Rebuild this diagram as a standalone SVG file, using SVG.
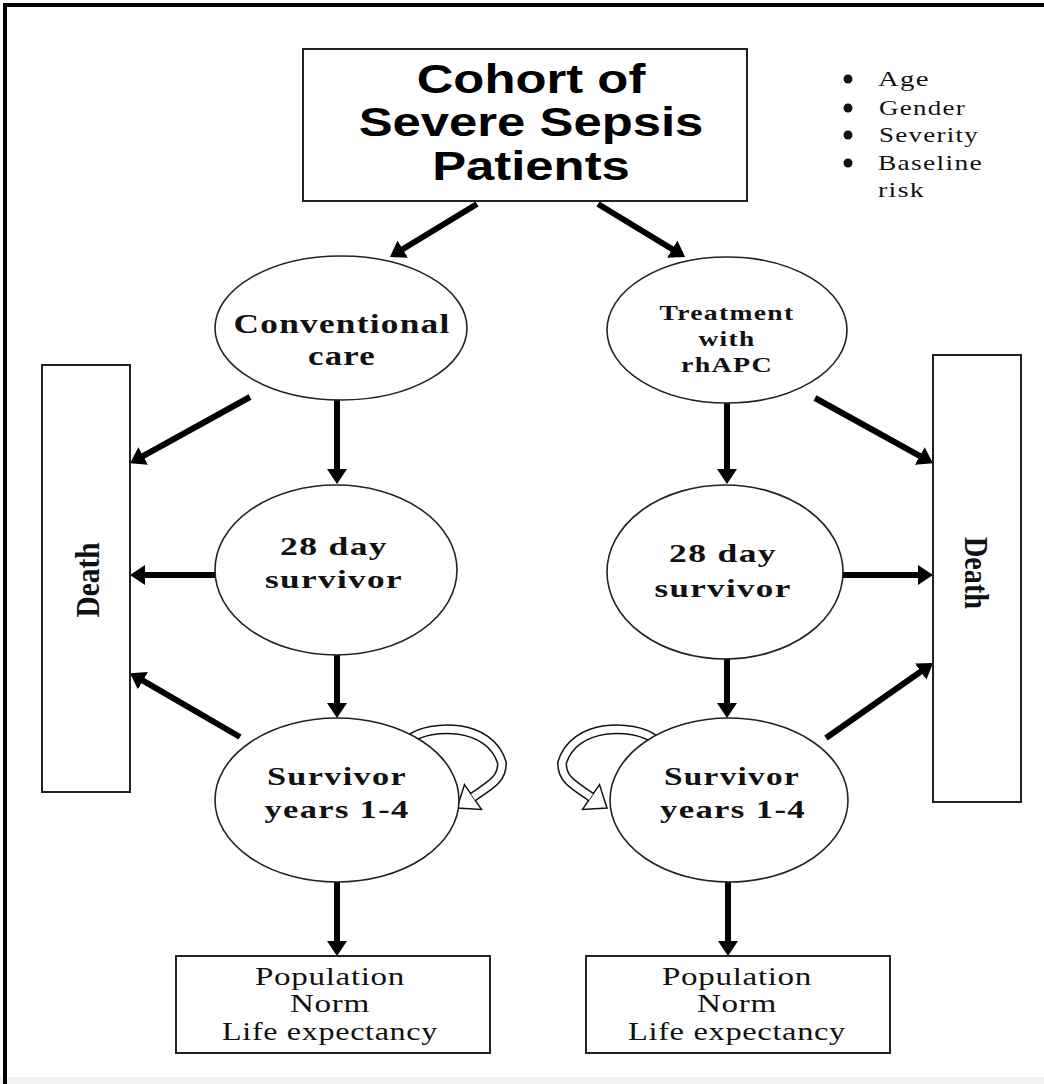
<svg xmlns="http://www.w3.org/2000/svg" width="1044" height="1084" viewBox="0 0 1044 1084">
<style>
.box{fill:#fff;stroke:#222;stroke-width:2}
.ell{fill:#fff;stroke:#222;stroke-width:1.6}
.ln{stroke:#000;stroke-width:6;fill:none;marker-end:url(#ah)}
.t1{font-family:"Liberation Sans",Arial,sans-serif;font-weight:bold;font-size:41px;fill:#000;text-anchor:middle}
.tb{font-family:"Liberation Serif","Times New Roman",serif;font-weight:bold;fill:#111;text-anchor:middle;letter-spacing:1px}
.tr{font-family:"Liberation Serif","Times New Roman",serif;fill:#111;letter-spacing:1px}
.tp{font-family:"Liberation Serif","Times New Roman",serif;fill:#111;text-anchor:middle;font-size:25px;letter-spacing:0.5px}
.bandO{fill:none;stroke:#111;stroke-width:10}
.bandI{fill:none;stroke:#fff;stroke-width:7}
.head{fill:#fff;stroke:#111;stroke-width:1.5;stroke-linejoin:miter}
</style>
<defs>
<marker id="ah" viewBox="0 0 15 20" refX="5" refY="10" markerWidth="15" markerHeight="20" markerUnits="userSpaceOnUse" orient="auto">
<path d="M0,0 L15,10 L0,20 z" fill="#000"/>
</marker>
<g id="loop">
<polygon class="head" points="457,808 464.5,784.6 481.5,809.4"/>
<path class="bandO" d="M410,739 C430,724 490,722 502,763 C502,779 492,784 473,797"/>
<path class="bandI" d="M410,739 C430,724 490,722 502,763 C502,779 492,784 473,797"/>
</g>
</defs>
<rect x="0" y="1077" width="1044" height="7" fill="#f2f2f2"/>
<rect x="5" y="5" width="1100" height="1100" fill="none" stroke="#000" stroke-width="4"/>

<g id="connectors">
<line class="ln" x1="477" y1="204" x2="398.5" y2="251.7"/>
<line class="ln" x1="598" y1="204" x2="676.5" y2="251.7"/>
<line class="ln" x1="250" y1="397" x2="138.8" y2="458.3"/>
<line class="ln" x1="337" y1="398" x2="337" y2="474"/>
<line class="ln" x1="217" y1="575" x2="140" y2="575"/>
<line class="ln" x1="337" y1="652" x2="337" y2="708"/>
<line class="ln" x1="240" y1="737" x2="138.6" y2="678.2"/>
<line class="ln" x1="337" y1="880" x2="337" y2="946"/>
<line class="ln" x1="815" y1="398" x2="924.2" y2="458.3"/>
<line class="ln" x1="727" y1="401" x2="727" y2="474"/>
<line class="ln" x1="841" y1="575" x2="923" y2="575"/>
<line class="ln" x1="727" y1="656" x2="727" y2="708"/>
<line class="ln" x1="826" y1="738" x2="924.8" y2="668.7"/>
<line class="ln" x1="728" y1="880" x2="728" y2="946"/>
<use href="#loop"/>
<use href="#loop" transform="translate(1064,0) scale(-1,1)"/>
</g>

<g id="cohort">
<rect class="box" x="303" y="49" width="444" height="152"/>
<g transform="translate(531 0) scale(1.24 1)">
<text class="t1" x="0" y="93">Cohort of</text>
<text class="t1" x="0" y="136">Severe Sepsis</text>
<text class="t1" x="0" y="180">Patients</text>
</g>
</g>

<g id="covariates">
<circle cx="848" cy="79" r="4.5" fill="#111"/>
<circle cx="848" cy="108" r="4.5" fill="#111"/>
<circle cx="848" cy="135" r="4.5" fill="#111"/>
<circle cx="848" cy="163" r="4.5" fill="#111"/>
<text class="tr" font-size="21" x="878" y="86" textLength="52" lengthAdjust="spacingAndGlyphs">Age</text>
<text class="tr" font-size="21" x="879" y="115" textLength="87" lengthAdjust="spacingAndGlyphs">Gender</text>
<text class="tr" font-size="21" x="879" y="142" textLength="100" lengthAdjust="spacingAndGlyphs">Severity</text>
<text class="tr" font-size="21" x="878" y="170" textLength="105" lengthAdjust="spacingAndGlyphs">Baseline</text>
<text class="tr" font-size="21" x="878" y="197" textLength="47" lengthAdjust="spacingAndGlyphs">risk</text>
</g>

<g id="conventional">
<ellipse class="ell" cx="341" cy="328" rx="126" ry="72"/>
<text class="tb" font-size="28" x="342" y="333" textLength="217" lengthAdjust="spacingAndGlyphs">Conventional</text>
<text class="tb" font-size="28" x="342" y="365" textLength="68" lengthAdjust="spacingAndGlyphs">care</text>
</g>

<g id="treatment">
<ellipse class="ell" cx="727" cy="330" rx="120" ry="73"/>
<text class="tb" font-size="21" x="727" y="320" textLength="135" lengthAdjust="spacingAndGlyphs">Treatment</text>
<text class="tb" font-size="21" x="727" y="346" textLength="57" lengthAdjust="spacingAndGlyphs">with</text>
<text class="tb" font-size="21" x="727" y="372" textLength="92" lengthAdjust="spacingAndGlyphs">rhAPC</text>
</g>

<g id="death-left">
<rect class="box" x="42" y="365" width="88" height="427"/>
<text class="tb" font-size="34" transform="translate(99 580) rotate(-90)" x="0" y="0" textLength="75" lengthAdjust="spacingAndGlyphs" style="letter-spacing:0">Death</text>
</g>

<g id="death-right">
<rect class="box" x="933" y="355" width="88" height="447"/>
<text class="tb" font-size="34" transform="translate(965 573) rotate(90)" x="0" y="0" textLength="72" lengthAdjust="spacingAndGlyphs" style="letter-spacing:0">Death</text>
</g>

<g id="survivor28-left">
<ellipse class="ell" cx="336" cy="570" rx="121" ry="85"/>
<text class="tb" font-size="26" x="334" y="555" textLength="108" lengthAdjust="spacingAndGlyphs">28 day</text>
<text class="tb" font-size="26" x="334" y="588" textLength="138" lengthAdjust="spacingAndGlyphs">survivor</text>
</g>

<g id="survivor28-right">
<ellipse class="ell" cx="725" cy="572" rx="118" ry="87"/>
<text class="tb" font-size="26" x="723" y="562" textLength="108" lengthAdjust="spacingAndGlyphs">28 day</text>
<text class="tb" font-size="26" x="723" y="597" textLength="137" lengthAdjust="spacingAndGlyphs">survivor</text>
</g>

<g id="survivor14-left">
<ellipse class="ell" cx="337" cy="800" rx="122" ry="82"/>
<text class="tb" font-size="26" x="337" y="785" textLength="140" lengthAdjust="spacingAndGlyphs">Survivor</text>
<text class="tb" font-size="26" x="337" y="818" textLength="145" lengthAdjust="spacingAndGlyphs">years 1-4</text>
</g>

<g id="survivor14-right">
<ellipse class="ell" cx="729" cy="800" rx="119" ry="82"/>
<text class="tb" font-size="26" x="732" y="785" textLength="136" lengthAdjust="spacingAndGlyphs">Survivor</text>
<text class="tb" font-size="26" x="733" y="818" textLength="146" lengthAdjust="spacingAndGlyphs">years 1-4</text>
</g>

<g id="norm-left">
<rect class="box" x="176" y="956" width="314" height="97"/>
<text class="tp" x="330" y="985" textLength="150" lengthAdjust="spacingAndGlyphs">Population</text>
<text class="tp" x="330" y="1012" textLength="80" lengthAdjust="spacingAndGlyphs">Norm</text>
<text class="tp" x="330" y="1040" textLength="216" lengthAdjust="spacingAndGlyphs">Life expectancy</text>
</g>

<g id="norm-right">
<rect class="box" x="586" y="956" width="304" height="97"/>
<text class="tp" x="737" y="985" textLength="150" lengthAdjust="spacingAndGlyphs">Population</text>
<text class="tp" x="737" y="1012" textLength="80" lengthAdjust="spacingAndGlyphs">Norm</text>
<text class="tp" x="737" y="1040" textLength="218" lengthAdjust="spacingAndGlyphs">Life expectancy</text>
</g>
</svg>
